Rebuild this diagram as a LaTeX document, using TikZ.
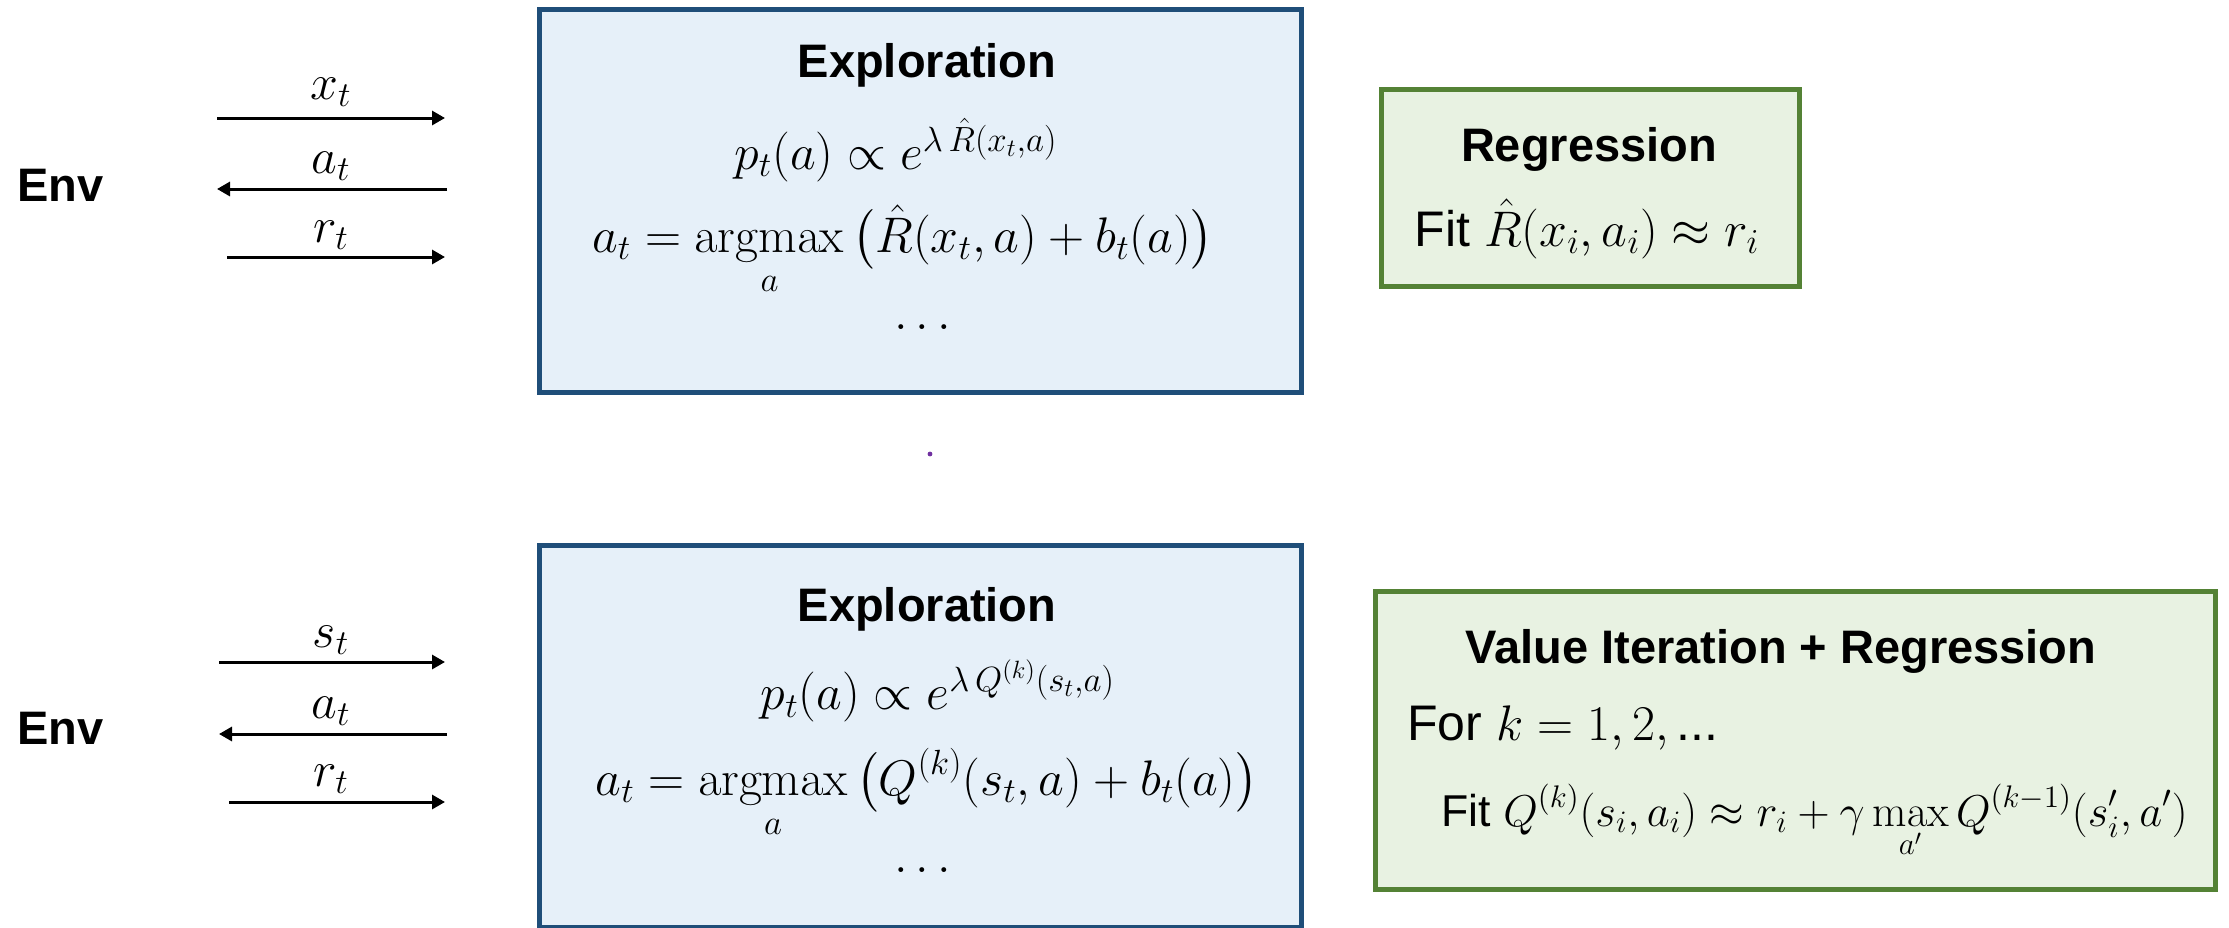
\RequirePackage{fix-cm}
\documentclass[tikz,border=0pt]{standalone}
\usepackage{amsmath}
\usepackage[no-math]{fontspec}
\setmainfont{Liberation Sans}
\usetikzlibrary{arrows.meta}
\definecolor{bborder}{HTML}{1F4E79}
\definecolor{bfill}{HTML}{E6F0F9}
\definecolor{gborder}{HTML}{548235}
\definecolor{gfill}{HTML}{E8F2E2}
\definecolor{dotcol}{HTML}{7030A0}
\begin{document}
\begin{tikzpicture}[x=0.5pt,y=-0.5pt,
  bluebox/.style={draw=bborder,fill=bfill,line width=2.5pt,rectangle,inner sep=0pt,anchor=north west},
  greenbox/.style={draw=gborder,fill=gfill,line width=2.5pt,rectangle,inner sep=0pt,anchor=north west},
  bigtxt/.style={font=\fontsize{25}{30}\selectfont,inner sep=0pt},
  titletxt/.style={font=\fontsize{23.5}{28}\selectfont\bfseries,inner sep=0pt},
  smalltxt/.style={font=\fontsize{22.3}{26}\selectfont,inner sep=0pt},
  flow/.style={line width=1.5pt,-{Triangle[length=6.5pt,width=7pt]}}
]
\useasboundingbox (0,0) rectangle (2229,927);

% ---------- top row ----------
\node[bluebox,minimum width=381pt,minimum height=191.5pt] (exp1) at (537,7) {};
\node[greenbox,minimum width=209pt,minimum height=98.5pt] (reg1) at (1379,87) {};
\node[titletxt,anchor=west] (env1) at (17,185) {Env};

\node[titletxt] (exp1t) at (927,65) {Exploration};
\node[bigtxt] (exp1a) at (896,150) {$p_t(a)\propto e^{\lambda\,\hat{R}(x_t,a)}$};
\node[bigtxt,anchor=base] (exp1b) at (903,252) {$\displaystyle a_t=\operatorname*{argmax}_a\big(\hat{R}(x_t,a)+b_t(a)\big)$};
\node[bigtxt] (exp1c) at (927,327) {$\dots$};

\node[titletxt] (reg1t) at (1589,149) {Regression};
\node[bigtxt] (reg1b) at (1587,229) {Fit $\hat{R}(x_i,a_i)\approx r_i$};

\coordinate (x1s) at (217,118);  \coordinate (x1e) at (445,118);
\coordinate (a1s) at (447,189);  \coordinate (a1e) at (217,189);
\coordinate (r1s) at (227,257);  \coordinate (r1e) at (445,257);
\draw[flow] (x1s) -- (x1e);
\draw[flow] (a1s) -- (a1e);
\draw[flow] (r1s) -- (r1e);
\node[bigtxt] (xl1) at (331,92) {$x_t$};
\node[bigtxt] (al1) at (331,166) {$a_t$};
\node[bigtxt] (rl1) at (331,235) {$r_t$};

% small dot
\fill[dotcol] (930,454) circle[radius=1.2pt];

% ---------- bottom row ----------
\node[bluebox,minimum width=381pt,minimum height=191pt] (exp2) at (537,543) {};
\node[greenbox,minimum width=420pt,minimum height=149pt] (vi2) at (1373,589) {};
\node[titletxt,anchor=west] (env2) at (17,728) {Env};

\node[titletxt] (exp2t) at (927,609) {Exploration};
\node[bigtxt] (exp2a) at (938,691) {$p_t(a)\propto e^{\lambda\,Q^{(k)}(s_t,a)}$};
\node[bigtxt,anchor=base] (exp2b) at (927,795) {$\displaystyle a_t=\operatorname*{argmax}_a\big(Q^{(k)}(s_t,a)+b_t(a)\big)$};
\node[bigtxt] (exp2c) at (927,870) {$\dots$};

\node[titletxt] (vi2t) at (1781,651) {Value Iteration + Regression};
\node[bigtxt,anchor=west] (vi2a) at (1407,728) {For $k=1,2,$\,...};
\node[smalltxt,anchor=base west] (vi2b) at (1441,826) {Fit $\displaystyle Q^{(k)}(s_i,a_i)\approx r_i+\gamma\max_{a'}Q^{(k-1)}(s_i',a')$};

\coordinate (s2s) at (219,662);  \coordinate (s2e) at (445,662);
\coordinate (a2s) at (447,734);  \coordinate (a2e) at (219,734);
\coordinate (r2s) at (229,802);  \coordinate (r2e) at (445,802);
\draw[flow] (s2s) -- (s2e);
\draw[flow] (a2s) -- (a2e);
\draw[flow] (r2s) -- (r2e);
\node[bigtxt] (sl2) at (331,640) {$s_t$};
\node[bigtxt] (al2) at (331,711) {$a_t$};
\node[bigtxt] (rl2) at (331,779) {$r_t$};
\end{tikzpicture}
\end{document}
